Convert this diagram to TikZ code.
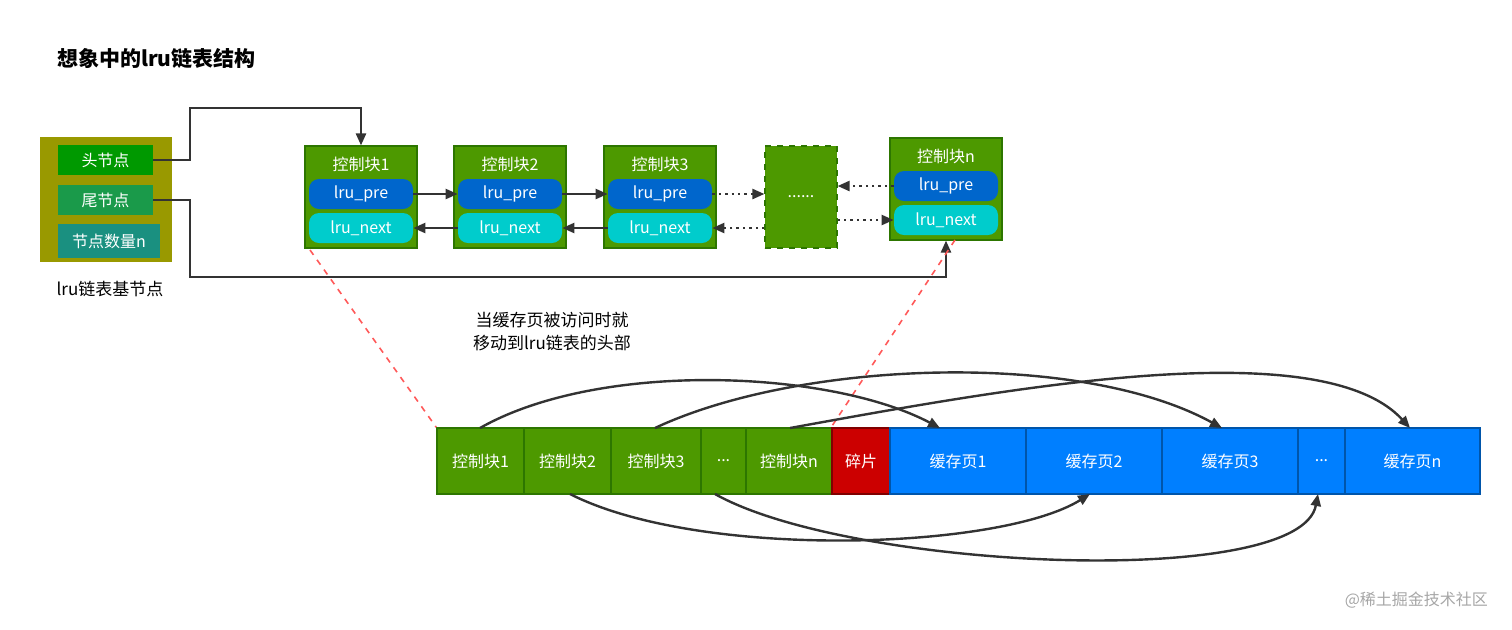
\documentclass[tikz,border=0pt]{standalone}
\usepackage{fontspec}
\setmainfont{Noto Sans CJK SC}
\usetikzlibrary{arrows.meta}
\definecolor{cg}{HTML}{4D9900}
\definecolor{cgb}{HTML}{2D7600}
\definecolor{pre}{HTML}{0066CC}
\definecolor{nxt}{HTML}{00CCCC}
\definecolor{blu}{HTML}{007FFF}
\definecolor{blub}{HTML}{0055AA}
\definecolor{oli}{HTML}{999900}
\definecolor{hd}{HTML}{009900}
\definecolor{tl}{HTML}{1A9A4A}
\definecolor{ct}{HTML}{1A9080}
\begin{document}
\begin{tikzpicture}[x=0.5pt,y=-0.5pt,
  txt/.style={font=\fontsize{8}{9}\selectfont,text=white},
  blk/.style={draw=cgb,fill=cg,line width=0.6pt},
  pill/.style={rounded corners=5pt,draw=none,txt},
  cell/.style={draw=cgb,fill=cg,line width=0.8pt,txt},
  con/.style={draw=black!80,line width=1.2pt,-{Triangle[length=6pt,width=5pt]}},
  dcon/.style={con,dotted},
  curve/.style={draw=black!80,line width=1.2pt,-{Triangle[length=6pt,width=5pt]}},
  red/.style={draw=red!65,dashed,line width=0.8pt}]
\useasboundingbox (0,0) rectangle (1512,629);
\node[anchor=west,font=\bfseries\fontsize{10.5}{12}\selectfont] (title) at (50,58) {想象中的lru链表结构};
% base node
\node[fill=oli,minimum width=66pt,minimum height=62.5pt,inner sep=0] (base) at (106,199.5) {};
\node[fill=hd,minimum width=47.5pt,minimum height=15pt,inner sep=0,txt] (head) at (105.5,160) {头节点};
\node[fill=tl,minimum width=47.5pt,minimum height=15pt,inner sep=0,txt] (tail) at (105.5,200) {尾节点};
\node[fill=ct,minimum width=51pt,minimum height=17pt,inner sep=0,txt] (cnt) at (109,241) {节点数量n};
\node[font=\fontsize{8.5}{10}\selectfont] (blab) at (110,289) {lru链表基节点};
% control blocks
\foreach \n/\x/\y/\t in {c1/361/146/控制块1,c2/510/146/控制块2,c3/660/146/控制块3,cn/946/138/控制块n}{
  \node[blk,minimum width=56pt,minimum height=51pt,inner sep=0] (\n) at (\x,\y+51) {};
  \node[txt,anchor=north] (\n t) at (\x,\y+4) {\t};
  \node[pill,fill=pre,minimum width=52pt,minimum height=15pt] (\n p) at (\x,\y+48) {lru\_pre};
  \node[pill,fill=nxt,minimum width=52pt,minimum height=15pt] (\n n) at (\x,\y+82) {lru\_next};
}
\node[draw=cgb,dashed,fill=cg,minimum width=36pt,minimum height=51pt,inner sep=0,txt,line width=0.6pt] (dots) at (801,197) {......};
% base links
\draw[con] (head.east) -- (190,160) -- (190,108) -- (361,108) -- (c1.north);
\draw[con] (tail.east) -- (190,200) -- (190,277) -- (946,277) -- (cn.south);
\draw[con] (c1p) -- (c2p);
\draw[con] (c2p) -- (c3p);
\draw[con] (c3n) -- (c2n);
\draw[con] (c2n) -- (c1n);
\draw[dcon] (c3p.east) -- (dots.west |- c3p.east);
\draw[dcon] (dots.west |- c3n.east) -- (c3n.east);
\draw[dcon] (cnp.west) -- (dots.east |- cnp.west);
\draw[dcon] (dots.east |- cnn.west) -- (cnn.west);
% bottom row
\foreach \n/\a/\b/\t in {b1/437/524/控制块1,b2/524/611/控制块2,b3/611/701/控制块3,b4/701/746/{...},b5/746/832/控制块n}{
  \node[cell,minimum width={(\b-\a)/2*1pt},minimum height=33pt,inner sep=0] (\n) at ({(\a+\b)/2},461) {\t};
}
\node[cell,fill=red!80!black,draw=red!50!black,minimum width=29pt,minimum height=33pt,inner sep=0] (frag) at (861,461) {碎片};
\foreach \n/\a/\b/\t in {p1/890/1026/缓存页1,p2/1026/1162/缓存页2,p3/1162/1298/缓存页3,p4/1298/1345/{...},p5/1345/1480/缓存页n}{
  \node[cell,fill=blu,draw=blub,minimum width={(\b-\a)/2*1pt},minimum height=33pt,inner sep=0] (\n) at ({(\a+\b)/2},461) {\t};
}
\node[align=center,font=\fontsize{8.5}{11.5}\selectfont] (note) at (552,332) {当缓存页被访问时就\\移动到lru链表的头部};
\coordinate (r1) at (310,250); \coordinate (r2) at (955,240);
\draw[red] (r1) -- (b1.north west);
\draw[red] (r2) -- (frag.north west);
% curves
\coordinate (s1) at (480,428); \coordinate (e1) at (940,428);
\coordinate (s2) at (655,428); \coordinate (e2) at (1222,428);
\coordinate (s3) at (790,428); \coordinate (e3) at (1410,428);
\coordinate (s4) at (570,494); \coordinate (e4) at (1090,494);
\coordinate (s5) at (715,494); \coordinate (e5) at (1318,494);
\draw[curve] (s1) .. controls (600,360) and (830,370) .. (e1);
\draw[curve] (s2) .. controls (800,360) and (1080,350) .. (e2);
\draw[curve] (s3) .. controls (1000,390) and (1320,330) .. (e3);
\draw[curve] (s4) .. controls (700,560) and (1000,550) .. (e4);
\draw[curve] (s5) .. controls (850,570) and (1300,590) .. (e5);
\node[anchor=east,text=gray!70,font=\fontsize{8}{10}\selectfont] (wm) at (1495,600) {@稀土掘金技术社区};
\end{tikzpicture}
\end{document}
